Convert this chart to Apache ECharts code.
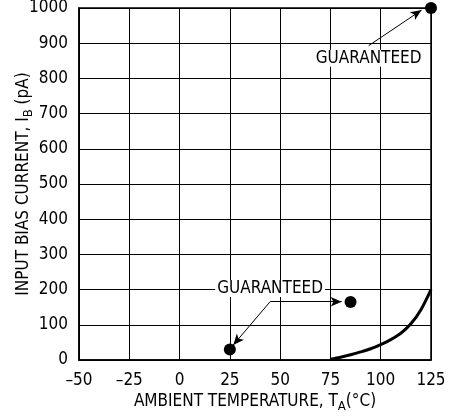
<!DOCTYPE html>
<html><head><meta charset="utf-8">
<script src="https://cdn.jsdelivr.net/npm/echarts@6/dist/echarts.min.js"></script>
<style>html,body{margin:0;padding:0;background:#fff}#c{width:458px;height:419px}</style>
</head><body><div id="c"></div>
<script>
const FONT = '"DejaVu Sans Condensed","Liberation Sans Narrow",sans-serif';
const xTicks = [-50, -25, 0, 25, 50, 75, 100, 125];
const yTicks = [0, 100, 200, 300, 400, 500, 600, 700, 800, 900, 1000];
const curveX = [75, 80, 85, 90, 95, 100, 105, 110, 115, 120, 125];
const curveY = [2, 8, 15, 23, 32, 44, 58, 76, 103, 143, 200];
const guaranteedX = [25, 85, 125];
const guaranteedY = [30, 165, 1000];
const labelText = ['GUARANTEED', 'GUARANTEED'];
const labelX = [94, 45];
const labelY = [857, 203];
// arrows: [fromX, fromY, toX, toY]
const arrows = [
  [94, 893, 120.3, 994],
  [45, 165.6, 80.6, 165.6],
  [45, 165.6, 26.7, 42.6]
];

const chart = echarts.init(document.getElementById('c'));
chart.setOption({
  animation: false,
  textStyle: {fontFamily: FONT},
  grid: {left: 79, right: 27, top: 8, bottom: 59, show: true, borderColor: '#000', borderWidth: 1.5,
    containLabel: false, outerBoundsMode: 'none'},
  xAxis: {
    type: 'value', min: xTicks[0], max: xTicks[xTicks.length - 1], interval: 25,
    axisLine: {show: true, onZero: false, lineStyle: {color: '#000', width: 1.5}},
    axisTick: {show: false},
    splitLine: {show: true, lineStyle: {color: '#000', width: 1}},
    axisLabel: {color: '#000', fontSize: 17, fontFamily: FONT, margin: 12,
      formatter: v => v < 0 ? '\u2013' + Math.abs(v) : String(v)},
    name: 'AMBIENT TEMPERATURE, T{sub|A}(°C)', nameLocation: 'middle', nameGap: 31,
    nameMoveOverlap: false,
    nameTextStyle: {color: '#000', fontSize: 17, fontFamily: FONT,
      rich: {sub: {fontSize: 13, fontFamily: FONT, color: '#000', padding: [9, 0, 0, 0]}}}
  },
  yAxis: {
    type: 'value', min: yTicks[0], max: yTicks[yTicks.length - 1], interval: 100,
    axisLine: {show: true, onZero: false, lineStyle: {color: '#000', width: 1.5}},
    axisTick: {show: false},
    splitLine: {show: true, lineStyle: {color: '#000', width: 1}},
    axisLabel: {color: '#000', fontSize: 17, fontFamily: FONT, margin: 11,
      formatter: v => String(v)},
    name: 'INPUT BIAS CURRENT, I{sub|B} (pA)', nameLocation: 'middle', nameGap: 44,
    nameMoveOverlap: false,
    nameTextStyle: {color: '#000', fontSize: 17, fontFamily: FONT,
      rich: {sub: {fontSize: 13, fontFamily: FONT, color: '#000', padding: [9, 0, 0, 0]}}}
  },
  series: [
    {
      type: 'line', data: curveX.map((x, i) => [x, curveY[i]]), smooth: 0.3,
      showSymbol: false, lineStyle: {color: '#000', width: 3}, z: 3
    },
    {
      type: 'line', data: [], silent: true,
      markLine: {
        silent: true, symbol: ['none', 'arrow'], symbolSize: [7, 11],
        lineStyle: {color: '#000', width: 1, type: 'solid'},
        label: {show: false},
        data: arrows.map(a => [{coord: [a[0], a[1]]}, {coord: [a[2], a[3]]}])
      }
    },
    {
      type: 'scatter', data: guaranteedX.map((x, i) => [x, guaranteedY[i]]),
      symbolSize: 12, itemStyle: {color: '#000', opacity: 1}, z: 5, clip: false
    },
    {
      type: 'scatter', data: labelX.map((x, i) => ({value: [x, labelY[i]], name: labelText[i]})),
      symbolSize: 1, itemStyle: {color: 'rgba(0,0,0,0)'}, z: 6,
      label: {show: true, position: 'inside', formatter: p => p.name, color: '#000',
        textBorderWidth: 0, opacity: 1,
        fontSize: 17, fontFamily: FONT, backgroundColor: '#fff', padding: [0, 2]}
    }
  ]
});
</script></body></html>
